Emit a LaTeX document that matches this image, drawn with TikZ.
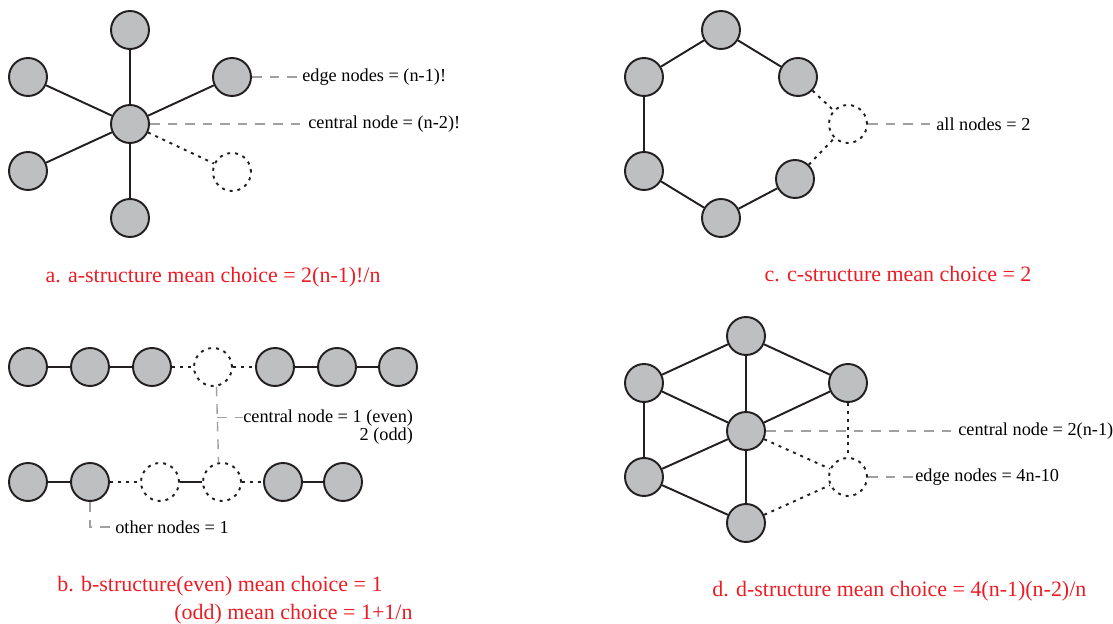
\documentclass[tikz,border=0pt]{standalone}
\usepackage{fontspec}
\setmainfont{Liberation Serif}
\usetikzlibrary{positioning,calc}
\definecolor{nodegray}{RGB}{190,191,193}
\definecolor{capred}{RGB}{237,28,36}
\definecolor{guidegray}{RGB}{160,160,160}
\definecolor{ink}{RGB}{35,31,32}

\begin{document}
\begin{tikzpicture}[x=0.02cm,y=-0.02cm,
    nd/.style={circle,draw=ink,line width=1.1pt,fill=nodegray,minimum size=0.76cm,inner sep=0pt},
    dnd/.style={circle,draw=ink,line width=1.1pt,dash pattern=on 1.7pt off 2.8pt,minimum size=0.76cm,inner sep=0pt},
    lnk/.style={draw=ink,line width=1.1pt},
    dlnk/.style={draw=ink,line width=1.1pt,dash pattern=on 1.7pt off 2.8pt},
    guide/.style={draw=guidegray,line width=0.8pt,dash pattern=on 5.5pt off 4.5pt},
    lbl/.style={anchor=west,inner sep=0pt,font=\fontsize{10.4}{12.5}\selectfont},
    captxt/.style={text=capred,inner sep=0pt,font=\fontsize{12.5}{15}\selectfont}]
    \useasboundingbox (0,0) rectangle (1113,624);

    % a-structure
    \node[nd] (a0) at (130,124) {};
    \node[nd] (a1) at (130,30) {};
    \node[nd] (a2) at (28,77) {};
    \node[nd] (a3) at (232,77) {};
    \node[nd] (a4) at (28,171) {};
    \node[nd] (a5) at (130,218) {};
    \node[dnd] (a6) at (232,172) {};
    \draw
    (a0) edge[lnk] (a1)
    (a0) edge[lnk] (a2)
    (a0) edge[lnk] (a3)
    (a0) edge[lnk] (a4)
    (a0) edge[lnk] (a5)
    (a0) edge[dlnk] (a6);
    \node[lbl] (aedge) at (302,77) {edge nodes = (n-1)!};
    \node[lbl] (acent) at (308,124) {central node = (n-2)!};
    \draw[guide] (a3) -- (aedge);
    \draw[guide] (a0) -- (acent);
    \node[captxt,anchor=base] (acap) at (213,283) {a. a-structure mean choice = 2(n-1)!/n};

    % c-structure
    \node[nd] (c1) at (721,30) {};
    \node[nd] (c2) at (644,77) {};
    \node[nd] (c3) at (798,77) {};
    \node[nd] (c4) at (644,171) {};
    \node[nd] (c5) at (721,218) {};
    \node[nd] (c6) at (795,179) {};
    \node[dnd] (c7) at (848,124) {};
    \draw
    (c1) edge[lnk] (c2)
    (c1) edge[lnk] (c3)
    (c2) edge[lnk] (c4)
    (c4) edge[lnk] (c5)
    (c5) edge[lnk] (c6)
    (c3) edge[dlnk] (c7)
    (c6) edge[dlnk] (c7);
    \node[lbl] (call) at (936,124) {all nodes = 2};
    \draw[guide] (c7) -- (call);
    \node[captxt,anchor=base] (ccap) at (898,282) {c. c-structure mean choice = 2};

    % b-structure
    \node[nd] (bt1) at (28,367) {};
    \node[nd] (bt2) at (90,367) {};
    \node[nd] (bt3) at (152,367) {};
    \node[dnd] (bt4) at (213,367) {};
    \node[nd] (bt5) at (275,367) {};
    \node[nd] (bt6) at (337,367) {};
    \node[nd] (bt7) at (398,367) {};
    \node[nd] (bb1) at (28,482) {};
    \node[nd] (bb2) at (90,482) {};
    \node[dnd] (bb3) at (160,482) {};
    \node[dnd] (bb4) at (222,482) {};
    \node[nd] (bb5) at (283,482) {};
    \node[nd] (bb6) at (343,482) {};
    \draw
    (bt1) edge[lnk] (bt2)
    (bt2) edge[lnk] (bt3)
    (bt3) edge[dlnk] (bt4)
    (bt4) edge[dlnk] (bt5)
    (bt5) edge[lnk] (bt6)
    (bt6) edge[lnk] (bt7)
    (bb1) edge[lnk] (bb2)
    (bb2) edge[dlnk] (bb3)
    (bb3) edge[lnk] (bb4)
    (bb4) edge[dlnk] (bb5)
    (bb5) edge[lnk] (bb6);
    \node[lbl,anchor=north west,align=right,font=\fontsize{10.4}{8.5}\selectfont] (bcent) at (243,409)
        {central node = 1 (even)\\2 (odd)};
    \node[lbl] (bother) at (115,527) {other nodes = 1};
    \coordinate (bj) at ($(bt4.-80)!0.41!(bb4.100)$);
    \draw[guide] (bt4.-80) -- (bb4.100);
    \draw[guide] (bj) -- (bj -| bcent.west);
    \draw[guide] (bb2) |- (bother);
    \node[captxt,anchor=base west,align=left,font=\fontsize{12.5}{16.5}\selectfont] (bcap) at (57,620)
        {b. b-structure(even) mean choice = 1\\\hspace*{2.34cm}(odd) mean choice = 1+1/n};

    % d-structure
    \node[nd] (d0) at (746,431) {};
    \node[nd] (d1) at (746,336) {};
    \node[nd] (d2) at (644,383) {};
    \node[nd] (d3) at (848,383) {};
    \node[nd] (d4) at (644,477) {};
    \node[nd] (d5) at (746,523) {};
    \node[dnd] (d6) at (848,477) {};
    \draw
    (d1) edge[lnk] (d2)
    (d1) edge[lnk] (d3)
    (d1) edge[lnk] (d0)
    (d2) edge[lnk] (d0)
    (d3) edge[lnk] (d0)
    (d2) edge[lnk] (d4)
    (d4) edge[lnk] (d0)
    (d4) edge[lnk] (d5)
    (d0) edge[lnk] (d5)
    (d3) edge[dlnk] (d6)
    (d0) edge[dlnk] (d6)
    (d5) edge[dlnk] (d6);
    \node[lbl] (dcent) at (958,431) {central node = 2(n-1)};
    \node[lbl] (dedge) at (915,477) {edge nodes = 4n-10};
    \draw[guide] (d0) -- (dcent);
    \draw[guide] (d6) -- (dedge);
    \node[captxt,anchor=base west] (dcap) at (712,597) {d. d-structure mean choice = 4(n-1)(n-2)/n};
\end{tikzpicture}
\end{document}
